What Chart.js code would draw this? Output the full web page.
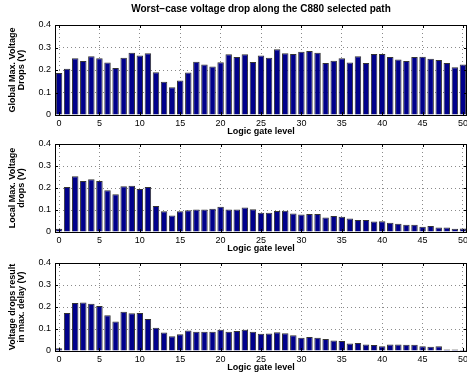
<!DOCTYPE html>
<html>
<head>
<meta charset="utf-8">
<script src="https://cdn.jsdelivr.net/npm/chart.js@4/dist/chart.umd.min.js"></script>
<style>
  html, body { margin: 0; padding: 0; background: #fff; overflow: hidden; }
  #wrap { position: relative; width: 467px; height: 379px; }
  #wrap canvas { position: absolute; left: 0; top: 0; }
</style>
</head>
<body>
<div id="wrap">
  <canvas id="globalChart" width="467" height="379"></canvas>
  <canvas id="localChart" width="467" height="379"></canvas>
  <canvas id="delayChart" width="467" height="379"></canvas>
</div>
<script>
// Logic gate levels 0..50
const gateLevels = Array.from({ length: 51 }, (_, i) => String(i));

// Panel 1: global max voltage drop (V)
const globalDrop = [0.187, 0.206, 0.252, 0.240, 0.261, 0.252, 0.233, 0.209, 0.255, 0.277,
  0.264, 0.274, 0.190, 0.148, 0.123, 0.153, 0.189, 0.237, 0.225, 0.216,
  0.234, 0.270, 0.258, 0.270, 0.236, 0.264, 0.255, 0.292, 0.274, 0.271,
  0.281, 0.284, 0.277, 0.231, 0.241, 0.252, 0.233, 0.261, 0.231, 0.271,
  0.271, 0.258, 0.247, 0.240, 0.258, 0.259, 0.250, 0.244, 0.231, 0.212,
  0.225];

// Panel 2: local max voltage drop (V)
const localDrop = [0.015, 0.205, 0.253, 0.232, 0.240, 0.232, 0.190, 0.172, 0.208, 0.210,
  0.195, 0.204, 0.118, 0.094, 0.075, 0.094, 0.099, 0.102, 0.102, 0.106,
  0.115, 0.102, 0.102, 0.111, 0.103, 0.088, 0.088, 0.096, 0.097, 0.084,
  0.079, 0.082, 0.082, 0.066, 0.073, 0.069, 0.061, 0.055, 0.055, 0.048,
  0.049, 0.042, 0.037, 0.033, 0.033, 0.024, 0.027, 0.021, 0.021, 0.015,
  0.016];

// Panel 3: voltage drops resulting in max. delay (V)
const delayDrop = [0.012, 0.173, 0.218, 0.221, 0.215, 0.204, 0.163, 0.134, 0.178, 0.172,
  0.173, 0.146, 0.106, 0.084, 0.067, 0.076, 0.093, 0.088, 0.088, 0.087,
  0.097, 0.088, 0.091, 0.097, 0.088, 0.078, 0.079, 0.085, 0.081, 0.072,
  0.060, 0.064, 0.060, 0.055, 0.048, 0.046, 0.034, 0.036, 0.030, 0.027,
  0.022, 0.030, 0.030, 0.028, 0.028, 0.022, 0.019, 0.022, 0.007, 0.007,
  0.005];

const yTicks = [0, 0.1, 0.2, 0.3, 0.4];

const FONT = "'Liberation Sans', Arial, Helvetica, sans-serif";
const BAR_FILL = '#00008b';
const BAR_EDGE = '#333333';
const GRID = '#8a8a8a';

// frame + inward tick marks, like a matlab box
const boxPlugin = {
    id: 'boxFrame',
    afterDraw(chart) {
        const { ctx, chartArea: a, scales } = chart;
        ctx.save();
        ctx.strokeStyle = '#000';
        ctx.lineWidth = 1;
        ctx.beginPath();
        const tl = 3;
        scales.x.ticks.forEach((t, i) => {
            if (i % 5 !== 0) return;
            const px = Math.round(scales.x.getPixelForTick(i)) + 0.5;
            ctx.moveTo(px, a.bottom); ctx.lineTo(px, a.bottom - tl);
            ctx.moveTo(px, a.top); ctx.lineTo(px, a.top + tl);
        });
        scales.y.ticks.forEach((t, i) => {
            const py = Math.round(scales.y.getPixelForTick(i)) + 0.5;
            ctx.moveTo(a.left, py); ctx.lineTo(a.left + tl, py);
            ctx.moveTo(a.right, py); ctx.lineTo(a.right - tl, py);
        });
        ctx.stroke();
        ctx.strokeRect(Math.round(a.left) + 0.5, Math.round(a.top) + 0.5,
            Math.round(a.right - a.left) - 1, Math.round(a.bottom - a.top));
        ctx.restore();
    }
};

function makePanel(id, values, yTitle, padTop, padBottom, title) {
    return new Chart(document.getElementById(id), {
        type: 'bar',
        data: {
            labels: gateLevels,
            datasets: [{
                data: values,
                backgroundColor: BAR_FILL,
                borderColor: BAR_EDGE,
                borderWidth: 1,
                barPercentage: 0.8,
                categoryPercentage: 1.0
            }]
        },
        options: {
            responsive: false,
            animation: false,
            layout: { padding: { top: padTop, bottom: padBottom, left: 0, right: 0 } },
            plugins: {
                legend: { display: false },
                tooltip: { enabled: false },
                title: {
                    display: !!title,
                    text: title || '',
                    fullSize: false,
                    color: '#000',
                    font: { family: FONT, size: 10, weight: 'bold', lineHeight: 1 },
                    padding: { top: 4, bottom: 11 }
                }
            },
            scales: {
                x: {
                    offset: true,
                    grid: {
                        offset: false,
                        drawTicks: false,
                        color: (c) => (c.index % 5 === 0 ? GRID : 'rgba(0,0,0,0)'),
                        lineWidth: 1
                    },
                    border: { display: false, dash: [1, 3] },
                    ticks: {
                        autoSkip: false,
                        maxRotation: 0,
                        padding: 3,
                        color: '#000',
                        font: { family: FONT, size: 9 },
                        callback: (v, i) => (i % 5 === 0 ? gateLevels[i] : '')
                    },
                    title: {
                        display: true,
                        text: 'Logic gate level',
                        color: '#000',
                        font: { family: FONT, size: 9, weight: 'bold', lineHeight: 1 },
                        padding: { top: 0, bottom: 1 }
                    },
                    afterFit: (s) => { s.height = 22; s.paddingLeft = 0; s.paddingRight = 0; }
                },
                y: {
                    min: 0,
                    max: 0.4,
                    afterBuildTicks: (s) => { s.ticks = yTicks.map(v => ({ value: v })); },
                    grid: { drawTicks: false, color: GRID, lineWidth: 1 },
                    border: { display: false, dash: [1, 3] },
                    ticks: {
                        padding: 4,
                        color: '#000',
                        font: { family: FONT, size: 9 },
                        callback: (v) => (v === 0 ? '0' : v.toFixed(1))
                    },
                    title: {
                        display: true,
                        text: yTitle,
                        color: '#000',
                        font: { family: FONT, size: 9, weight: 'bold', lineHeight: 1 },
                        padding: { top: 8.5, bottom: 0 }
                    },
                    afterFit: (s) => { s.width = 55; s.paddingTop = 0; s.paddingBottom = 0; }
                }
            }
        },
        plugins: [boxPlugin]
    });
}

makePanel('globalChart', globalDrop, ['Global Max. Voltage', 'Drops (V)'], 0, 242,
    'Worst\u2212case voltage drop along the C880 selected path');
makePanel('localChart', localDrop, ['Local Max. Voltage', 'drops (V)'], 144, 125);
makePanel('delayChart', delayDrop, ['Voltage drops result', 'in max. delay (V)'], 263, 6);
</script>
</body>
</html>
